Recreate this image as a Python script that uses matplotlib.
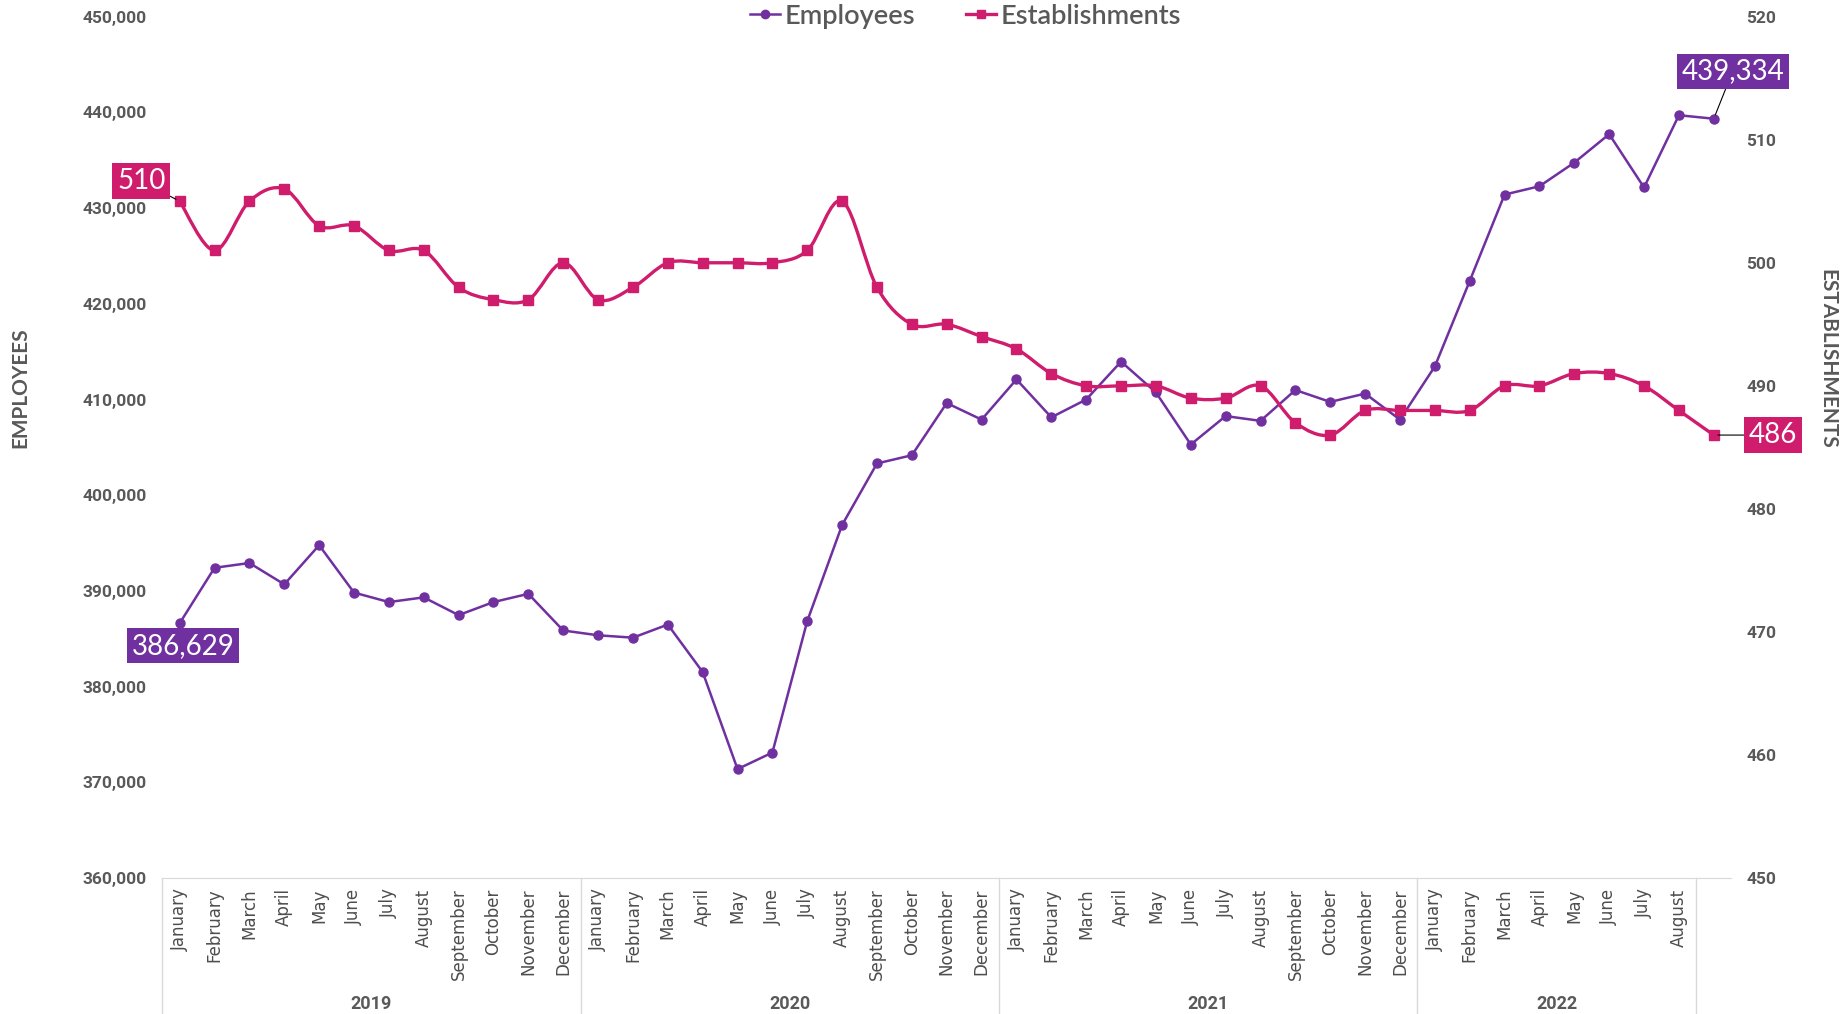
import numpy as np
import matplotlib
matplotlib.use('Agg')
import matplotlib.pyplot as plt
from matplotlib.path import Path
from matplotlib.patches import PathPatch
from matplotlib.lines import Line2D
from matplotlib.ticker import FuncFormatter

# data
months = ['January', 'February', 'March', 'April', 'May', 'June', 'July', 'August',
          'September', 'October', 'November', 'December']
years = ['2019', '2020', '2021', '2022']
month_labels = months * 3 + months[:8] + ['']

employees = [386629, 392420, 392920, 390690, 394780, 389830, 388840, 389330, 387475, 388840, 389700, 385870,
             385370, 385120, 386490, 381530, 371390, 373120, 386860, 396900, 403320, 404180, 409630, 407900,
             412100, 408140, 410000, 413960, 410740, 405300, 408270, 407770, 410990, 409750, 410620, 407900,
             413460, 422380, 431410, 432280, 434750, 437720, 432150, 439700, 439334]
establishments = [505, 501, 505, 506, 503, 503, 501, 501, 498, 497, 497, 500,
                  497, 498, 500, 500, 500, 500, 501, 505, 498, 495, 495, 494,
                  493, 491, 490, 490, 490, 489, 489, 490, 487, 486, 488, 488,
                  488, 488, 490, 490, 491, 491, 490, 488, 486]

purple = '#7030A0'
pink = '#D01C6C'
grey = '#595959'
narrow = ['Roboto', 'DejaVu Sans']

x = np.arange(len(employees))

fig = plt.figure(figsize=(18.48, 10.14), dpi=100)
ax = fig.add_axes([0.0878, 0.134, 0.849, 0.8496])
ax2 = ax.twinx()

# employees - straight line
ax.plot(x, employees, color=purple, lw=1.8, marker='o', ms=6.5, zorder=3)
ax.set_xlim(-0.5, len(x) - 0.5)
ax.set_ylim(360000, 450000)
ax.set_yticks(np.arange(360000, 450001, 10000))
ax.yaxis.set_major_formatter(FuncFormatter(lambda v, p: '{:,.0f}'.format(v)))

# establishments - smoothed line (bezier through the points, like excel)
ey = np.array(establishments, dtype=float)
verts = [(x[0], ey[0])]
codes = [Path.MOVETO]
n = len(ey)
for i in range(n - 1):
    p0 = np.array([x[max(i - 1, 0)], ey[max(i - 1, 0)]])
    p1 = np.array([x[i], ey[i]])
    p2 = np.array([x[i + 1], ey[i + 1]])
    p3 = np.array([x[min(i + 2, n - 1)], ey[min(i + 2, n - 1)]])
    c1 = p1 + (p2 - p0) / 6.0
    c2 = p2 - (p3 - p1) / 6.0
    verts += [tuple(c1), tuple(c2), tuple(p2)]
    codes += [Path.CURVE4] * 3
ax2.add_patch(PathPatch(Path(verts, codes), fill=False, edgecolor=pink, lw=2.4, zorder=3))
ax2.plot(x, establishments, ls='none', marker='s', ms=7.5, color=pink, zorder=4)
ax2.set_ylim(450, 520)
ax2.set_yticks(np.arange(450, 521, 10))

for a in (ax, ax2):
    for s in a.spines.values():
        s.set_visible(False)
    a.tick_params(axis='y', length=0, pad=11, labelsize=12.5, labelcolor=grey)
    for t in a.get_yticklabels():
        t.set_fontweight('bold')
        t.set_family(narrow)
ax.spines['bottom'].set_visible(True)
ax.spines['bottom'].set_color('#D9D9D9')
ax.set_xticks([])

# two level category axis
xt = ax.get_xaxis_transform()
for i, m in enumerate(month_labels):
    ax.text(i, -0.012, m, transform=xt, rotation=90, ha='center', va='top',
            fontsize=12, color='#4d4d4d', family='DejaVu Sans')
for k, yr in enumerate(years):
    start = 12 * k
    end = min(12 * k + 12, 44)
    ax.text((start + end - 1) / 2.0, -0.146, yr, transform=xt, ha='center', va='center',
            fontsize=13, color=grey, fontweight='bold', family=narrow)
for b in [-0.5, 11.5, 23.5, 35.5, 43.5]:
    ax.add_line(Line2D([b, b], [0, -0.16], transform=xt, color='#D9D9D9', lw=1, clip_on=False))

# axis titles
fig.text(0.011, 0.618, 'EMPLOYEES', rotation=90, ha='center', va='center', fontsize=15,
         color=grey, family='Lato', fontweight='bold')
fig.text(0.989, 0.646, 'ESTABLISHMENTS', rotation=-90, ha='center', va='center', fontsize=15,
         color=grey, family='Lato', fontweight='bold')

# data labels
def tag(a, xi, yi, txt, col, off, line=True):
    ap = dict(arrowstyle='-', color='black', lw=0.8, shrinkA=0, shrinkB=3) if line else None
    a.annotate(txt, xy=(xi, yi), xytext=off, textcoords='offset points', ha='center', va='center',
               fontsize=20, color='white', zorder=6, family='Lato',
               bbox=dict(boxstyle='square,pad=0.17', fc=col, ec='none'), arrowprops=ap)

tag(ax2, x[0], establishments[0], '510', pink, (-27.7, 14.5))
tag(ax2, x[-1], establishments[-1], '486', pink, (42.6, 0))
tag(ax, x[0], employees[0], '{:,}'.format(employees[0]), purple, (2.5, -16.2), line=False)
tag(ax, x[-1], employees[-1], '{:,}'.format(employees[-1]), purple, (13.6, 34.1))

# legend
h1 = Line2D([], [], color=purple, marker='o', ms=6, lw=1.8)
h2 = Line2D([], [], color=pink, marker='s', ms=6, lw=2.4)
leg = fig.legend([h1, h2], ['Employees', 'Establishments'], loc='center', bbox_to_anchor=(0.5225, 0.984),
                 ncol=2, frameon=False, handlelength=1.1, handletextpad=0.15,
                 columnspacing=1.9, borderaxespad=0, prop={'family': 'Lato', 'size': 19.5, 'weight': 'semibold'})
for t in leg.get_texts():
    t.set_color(grey)

fig.savefig('out.png', dpi=100)
